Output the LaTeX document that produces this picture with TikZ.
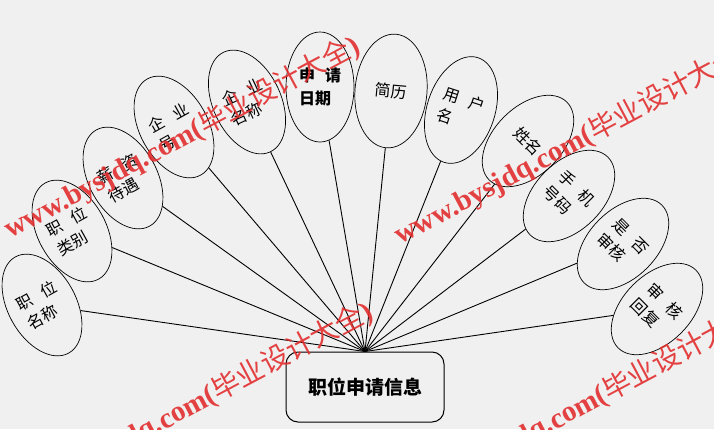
\documentclass[tikz,border=0pt]{standalone}
\usepackage{fontspec}
\newfontfamily\cjk{Noto Sans CJK SC}
\newfontfamily\wmserif{Liberation Serif}
\usetikzlibrary{shapes.geometric}
\definecolor{bg}{RGB}{240,240,240}
\definecolor{wm}{RGB}{226,46,46}
\begin{document}
\begin{tikzpicture}[x=1pt,y=-1pt,
  attr/.style={ellipse, draw, line width=0.7pt, minimum width=68pt, minimum height=110pt,
    inner sep=0pt, font=\cjk\fontsize{16}{22}\selectfont, align=left},
  conn/.style={line width=0.9pt},
  wmark/.style={text=wm, opacity=0.9, rotate=28, anchor=base west, inner sep=0pt}]
\fill[bg] (0,0) rectangle (714,429);
\useasboundingbox (0,0) rectangle (714,429);

\node[draw, rounded corners=12pt, line width=1pt, minimum width=158pt, minimum height=70pt,
  font=\cjk\bfseries\fontsize{19}{19}\selectfont] (main) at (365,387) {职位申请信息};

\node[attr, rotate=29] (a1) at (42,305) {职\hspace{11pt}位\\名称};
\node[attr, rotate=29] (a2) at (72,231) {职\hspace{11pt}位\\类别};
\node[attr, rotate=29] (a3) at (123,178) {薪\hspace{11pt}资\\待遇};
\node[attr, rotate=29] (a4) at (174,127) {企\hspace{11pt}业\\号};
\node[attr, rotate=25] (a5) at (247,102) {企\hspace{11pt}业\\名称};
\node[attr, font=\cjk\bfseries\fontsize{16}{23}\selectfont] (a6) at (320,87) {申\hspace{10pt}请\\日期};
\node[attr, rotate=-5, minimum width=72pt, minimum height=114pt] (a7) at (391,91) {简历};
\node[attr, rotate=-18] (a8) at (461,110) {用\hspace{11pt}户\\名};
\node[attr, rotate=-45] (a9) at (528,141) {姓名};
\node[attr, rotate=-45] (a10) at (569,196) {手\hspace{11pt}机\\号码};
\node[attr, rotate=-45] (a11) at (623,244) {是\hspace{11pt}否\\审核};
\node[attr, rotate=-45] (a12) at (657,309) {审\hspace{11pt}核\\回复};

\foreach \i in {1,...,12} {\draw[conn] (a\i) -- (main.north);}

\foreach \p/\q in {10/239, 400/245, 23/505, 414/505} {
  \node[wmark] at (\p,\q) {{\wmserif\bfseries\fontsize{29}{29}\selectfont www.bysjdq.com(}{\cjk\fontsize{28}{28}\selectfont 毕业设计大全}{\wmserif\bfseries\fontsize{29}{29}\selectfont)}};
}
\end{tikzpicture}
\end{document}
